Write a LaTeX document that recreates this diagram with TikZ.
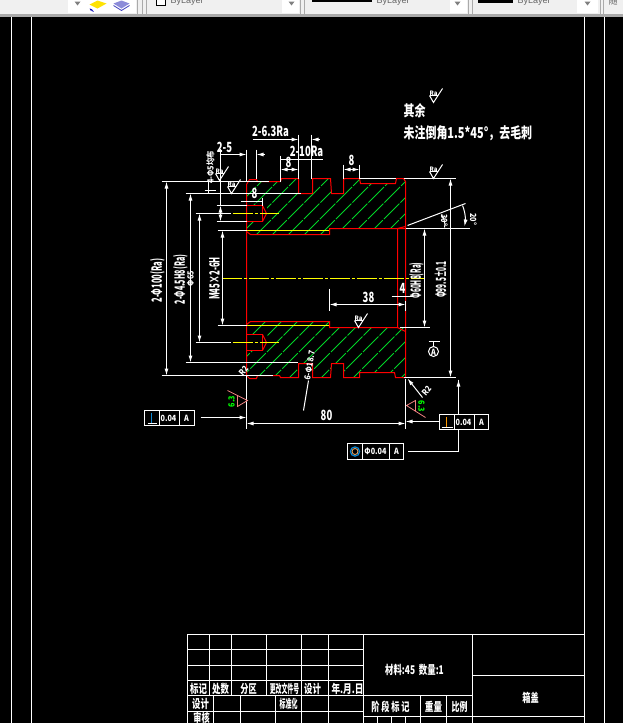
\documentclass[tikz,border=0pt]{standalone}
\usepackage{fontspec}
\usepackage{tikz}
\usetikzlibrary{arrows.meta}
\newfontfamily\cjk{Noto Sans CJK SC}
\newfontfamily\barfont{Liberation Sans}
\definecolor{partred}{RGB}{255,0,0}
\definecolor{hatchgreen}{RGB}{0,215,40}
\definecolor{centeryellow}{RGB}{255,255,0}
\definecolor{barfill}{RGB}{240,240,240}
\definecolor{bargray}{RGB}{170,170,170}
\definecolor{signpink}{RGB}{240,130,130}
\tikzset{
    outline/.style={
        draw=partred,
        line width=1pt
    },
    thinline/.style={
        draw=white,
        line width=1pt
    },
    dimline/.style={
        thinline,
        {Latex[length=7pt,width=4pt]}-{Latex[length=7pt,width=4pt]}
    },
    dimend/.style={
        thinline,
        -{Latex[length=7pt,width=4pt]}
    },
    centerline/.style={
        draw=centeryellow,
        line width=1pt,
        dash pattern=on 20pt off 2pt on 3pt off 2pt
    },
    threadline/.style={
        draw=centeryellow,
        line width=1pt
    },
    hatchline/.style={
        draw=hatchgreen,
        line width=0.9pt,
        dash pattern=on 22pt off 1.5pt
    },
    labelbase/.style={
        text=white,
        inner sep=0pt,
        transform shape
    },
    partlabel/.style={
        labelbase,
        font=\cjk\bfseries\fontsize{14}{14}\selectfont,
        xscale=0.68
    },
    gridlabel/.style={
        labelbase,
        font=\cjk\bfseries\fontsize{12}{12}\selectfont
    },
    notelabel/.style={
        labelbase,
        anchor=west,
        font=\cjk\bfseries\fontsize{15}{15}\selectfont,
        xscale=0.73
    },
    tinylabel/.style={
        labelbase,
        font=\cjk\bfseries\fontsize{8.5}{8.5}\selectfont,
        xscale=0.85
    },
    greenlabel/.style={
        tinylabel,
        text=green
    },
    barlabel/.style={
        inner sep=0pt,
        anchor=west,
        text=black!60,
        font=\barfont\fontsize{9}{9}\selectfont
    },
    framebox/.style={
        thinline,
        fill=black
    }
}
\newcommand{\roughsign}[2]{
    \draw[thinline] (#1-4,#2-7) -- (#1,#2) -- (#1+9,#2-14);
    \draw[thinline] (#1-4,#2-7) -- (#1+4,#2-7);
    \node[labelbase, font=\cjk\bfseries\fontsize{6}{6}\selectfont] at (#1,#2-9) {Ra};
}

\begin{document}
\begin{tikzpicture}[x=1pt, y=-1pt]
    \useasboundingbox (-0.5,-0.5) rectangle (622.5,722.5);
    \fill[black] (-0.5,-0.5) rectangle (622.5,722.5);

    % toolbar
    \fill[barfill] (-0.5,-0.5) rectangle (622.5,13);
    \fill[bargray] (-0.5,13) rectangle (622.5,16);
    \fill[white] (67,-0.5) rectangle (135,12);
    \fill[white] (281,-0.5) rectangle (298,12);
    \fill[white] (449,-0.5) rectangle (466,12);
    \fill[white] (576,-0.5) rectangle (597,12);
    \foreach \x in {77,291,457,587} {
        \fill[gray] (\x-3,1) -- (\x+3,1) -- (\x,5) -- cycle;
    }
    \foreach \x in {137,142,146,300,304,468,472,600,603} {
        \draw[bargray, line width=1pt] (\x,-0.5) -- (\x,13);
    }
    \fill[yellow!85!orange] (89,4) -- (97,0) -- (106,3) -- (97,8) -- cycle;
    \draw[blue!70!black, -{Stealth[length=3pt]}, line width=0.8pt] (93,11) -- (89,8);
    \fill[gray!50!blue!60] (113,3) -- (121,0) -- (129,3) -- (121,8) -- cycle;
    \draw[gray!50!blue, line width=0.8pt] (113,5) -- (121,10) -- (129,5);
    \fill[black] (311,-0.5) rectangle (371,1);
    \fill[black] (477,-0.5) rectangle (512,2);
    \begin{scope}
        \clip (-0.5,-0.5) rectangle (622.5,13);
        \draw[black, fill=white, line width=0.6pt] (156,-3) rectangle (165,5);
        \node[barlabel] (layera) at (170,1) {ByLayer};
        \node[barlabel] (layerb) at (376,1) {ByLayer};
        \node[barlabel] (layerc) at (517,1) {ByLayer};
        \node[barlabel, font=\cjk\fontsize{9}{9}\selectfont] (layerd) at (608,1) {随};
    \end{scope}

    % drawing frame
    \foreach \x in {11,31,584,604} {
        \draw[thinline] (\x,16) -- (\x,722.5);
    }

    % hatching
    \begin{scope}
        \clip (246,184) -- (249,179) -- (256,179) -- (257,181) -- (280,181) -- (281,178)
            -- (298,178) -- (298,193) -- (312,193) -- (312,178) -- (330,178) -- (331,193)
            -- (343,193) -- (343,178) -- (359,178) -- (360,183) -- (395,183) -- (396,178)
            -- (403,178) -- (405,181) -- (405,228) -- (329,228) -- (329,234) -- (250,234)
            -- (246,231) -- cycle
            (246,324) -- (250,321) -- (329,321) -- (329,327) -- (405,327) -- (405,377)
            -- (395,377) -- (394,372) -- (359,372) -- (359,377) -- (343,377) -- (343,363)
            -- (331,363) -- (330,377) -- (312,377) -- (312,363) -- (298,363) -- (298,377)
            -- (280,377) -- (279,375) -- (257,375) -- (256,378) -- (249,378) -- (246,375) -- cycle;
        \foreach \c in {442,458,...,794} {
            \draw[hatchline] (\c-120,120) -- (\c-400,400);
        }
        \fill[black] (246,205) rectangle (266,221);
        \fill[black] (246,334) rectangle (266,350);
    \end{scope}

    % part outline
    \draw[threadline] (246,230) -- (329,230);
    \draw[threadline] (246,325) -- (329,325);
    \draw[outline] (246,184) -- (249,179) -- (256,179) -- (257,181) -- (280,181) -- (281,178)
        -- (298,178) -- (298,193) -- (312,193) -- (312,178) -- (330,178) -- (331,193)
        -- (343,193) -- (343,178) -- (359,178) -- (360,183) -- (395,183) -- (396,178)
        -- (403,178) -- (405,181) -- (405,377) -- (395,377) -- (394,372) -- (359,372)
        -- (359,377) -- (343,377) -- (343,363) -- (331,363) -- (330,377) -- (312,377)
        -- (312,363) -- (298,363) -- (298,377) -- (280,377) -- (279,375) -- (257,375)
        -- (256,378) -- (249,378) -- (246,375) -- cycle;
    \draw[outline] (246,231) -- (250,234) -- (329,234) -- (329,228) -- (405,228);
    \draw[outline] (246,324) -- (250,321) -- (329,321) -- (329,327) -- (397,327) -- (397,228);
    \draw[outline] (397,228) -- (405,226);
    \draw[outline] (397,327) -- (405,331);

    % blind holes
    \draw[outline] (246,205) -- (262,205) -- (262,221) -- (246,221);
    \draw[outline] (262,205) -- (266,213) -- (262,221);
    \draw[outline] (246,334) -- (262,334) -- (262,350) -- (246,350);
    \draw[outline] (262,334) -- (266,342) -- (262,350);

    % center lines
    \draw[centerline] (232,213) -- (278,213);
    \draw[centerline] (232,342) -- (278,342);
    \draw[centerline] (221,278) -- (424,278);

    % extension lines
    \draw[thinline] (161,181) -- (268,181);
    \draw[thinline] (185,193) -- (300,193);
    \draw[thinline] (216,205) -- (246,205);
    \draw[thinline] (195,213) -- (230,213);
    \draw[thinline] (216,221) -- (246,221);
    \draw[thinline] (217,230) -- (246,230);
    \draw[thinline] (217,325) -- (246,325);
    \draw[thinline] (195,342) -- (230,342);
    \draw[thinline] (185,362) -- (297,362);
    \draw[thinline] (161,375) -- (272,375);
    \draw[thinline] (246,149) -- (246,181);
    \draw[thinline] (256,149) -- (256,178);
    \draw[thinline] (298,134) -- (298,178);
    \draw[thinline] (311,134) -- (311,178);
    \draw[thinline] (280,155) -- (280,181);
    \draw[thinline] (343,164) -- (343,178);
    \draw[thinline] (359,164) -- (359,178);
    \draw[thinline] (359,178) -- (395,178);
    \draw[thinline] (403,178) -- (455,178);
    \draw[thinline] (405,228) -- (469,228);
    \draw[thinline] (399,327) -- (429,327);
    \draw[thinline] (403,377) -- (455,377);
    \draw[thinline] (329,288) -- (329,310);
    \draw[thinline] (405,300) -- (405,310);
    \draw[thinline] (246,375) -- (246,428);
    \draw[thinline] (405,378) -- (405,428);

    % dimensions
    \draw[dimline] (166,181) -- (166,375);
    \draw[dimline] (190,193) -- (190,362);
    \draw[dimline] (199,213) -- (199,342);
    \draw[dimline] (222,230) -- (222,325);
    \draw[dimline] (220,205) -- (220,221);
    \draw[thinline] (220,148) -- (220,205);
    \draw[dimline] (424,228) -- (424,327);
    \draw[dimline] (450,178) -- (450,377);
    \draw[dimline] (329,304) -- (405,304);
    \draw[dimline] (246,423) -- (405,423);
    \draw[dimline] (280,169) -- (298,169);
    \draw[dimline] (343,169) -- (359,169);
    \draw[thinline] (240,201) -- (262,201);
    \draw[thinline] (262,197) -- (262,205);
    \draw[dimend] (219,154) -- (246,154);
    \draw[dimend] (264,154) -- (256,154);
    \draw[dimend] (252,139) -- (298,139);
    \draw[dimend] (319,139) -- (311,139);
    \draw[thinline] (280,159) -- (322,159);
    \draw[thinline] (391,296) -- (412,296);
    \draw[thinline] (208,181) -- (208,192);
    \draw[thinline] (204,190) -- (215,190);

    % angle marks
    \draw[thinline] (407,225) -- (465,203);
    \draw[thinline] (441,214) .. controls (444,219) and (445,223) .. (444,227);
    \draw[dimend] (462,205) .. controls (465,212) and (465,220) .. (464,226);

    % leaders
    \draw[dimend] (422,397) -- (407,378);
    \draw[thinline] (308,380) -- (303,410);
    \draw[dimend] (200,417) -- (246,417);
    \draw[dimend] (439,421) -- (405,421);
    \draw[thinline] (458,379) -- (458,451) -- (407,451);
    \draw[dimend] (458,395) -- (458,379);

    % pink surface signs
    \draw[signpink, line width=0.8pt] (227,390) -- (247,400) -- (237,406) -- (237,395);
    \draw[signpink, line width=0.8pt] (425,417) -- (406,405) -- (415,400) -- (415,410);

    % datum sign
    \draw[thinline] (428,341) -- (439,341);
    \draw[thinline] (433,341) -- (433,346);
    \draw[thinline] (433,351) circle (5);

    % tolerance frames
    \draw[framebox] (144,410) rectangle (194,425);
    \draw[thinline] (158.5,410) -- (158.5,425);
    \draw[thinline] (178.5,410) -- (178.5,425);
    \draw[thinline] (147,423) -- (156,423);
    \draw[cyan!70!blue, line width=1pt] (151,412) -- (151,422);
    \draw[framebox] (439,414) rectangle (488,429);
    \draw[thinline] (453.5,414) -- (453.5,429);
    \draw[thinline] (473.5,414) -- (473.5,429);
    \draw[thinline] (441,427) -- (452,427);
    \draw[orange!80!yellow, line width=1pt] (446,416) -- (446,426);
    \draw[framebox] (347,443) rectangle (403,459);
    \draw[thinline] (362,443) -- (362,459);
    \draw[thinline] (388.5,443) -- (388.5,459);
    \draw[cyan!70!blue, line width=1.2pt] (354.5,451) circle (4.6);
    \draw[orange!60!white, line width=0.8pt] (354.5,451) circle (3);

    % roughness signs
    \roughsign{433}{102}
    \roughsign{433}{178}
    \roughsign{219}{180}
    \roughsign{231}{193}
    \roughsign{358}{327}

    % dimension texts
    \node[partlabel] (dimtwofive) at (224,147) {2-5};
    \node[partlabel] (dimsixthree) at (270,131) {2-6.3Ra};
    \node[partlabel] (dimtenra) at (306,151) {2-10Ra};
    \node[partlabel] (dimeighta) at (288,162) {8};
    \node[partlabel] (dimeightb) at (254,193) {8};
    \node[partlabel] (dimeightc) at (351,160) {8};
    \node[partlabel] (dimthirtyeight) at (368,297) {38};
    \node[partlabel] (dimfour) at (402,288) {4};
    \node[partlabel] (dimeighty) at (326,415) {80};
    \node[rotate=90, partlabel, xscale=0.8] (diahundred) at (157,280) {2-Φ100(Ra)};
    \node[rotate=90, partlabel, xscale=0.75] (diaforty) at (180,279) {2-Φ4.5H8(Ra)};
    \node[rotate=90, tinylabel] (diasixtyfive) at (190,278) {Φ65};
    \node[rotate=90, partlabel, xscale=0.82] (threadlabel) at (214,278) {M45×2-6H};
    \node[rotate=90, partlabel, xscale=0.68] (boreeighty) at (416,280) {Φ60H8(Ra)};
    \node[rotate=90, partlabel, xscale=0.68] (dianinety) at (440,279) {Φ99.5±0.1};
    \node[rotate=90, tinylabel] (holelabel) at (210,167) {4-Φ5均布};
    \node[rotate=80, tinylabel] (cornerlabel) at (309,365) {6-Φ18.7};
    \node[rotate=50, tinylabel] (radiusright) at (426,390) {R2};
    \node[rotate=50, tinylabel] (radiusleft) at (243,370) {R2};
    \node[rotate=-90, tinylabel] (anglethirty) at (444,220) {30°};
    \node[rotate=-90, tinylabel] (angletwenty) at (473,219) {20°};
    \node[tinylabel] (datuma) at (433,352) {A};
    \node[rotate=90, greenlabel] (signleft) at (231,401) {6.3};
    \node[rotate=-90, greenlabel] (signright) at (421,406) {6.3};

    % notes
    \node[notelabel] (notehead) at (403,110) {其余};
    \node[notelabel] (notetext) at (403,133) {未注倒角1.5*45°，去毛刺};

    % frame texts
    \node[tinylabel] (toldatuma) at (186,418) {A};
    \node[tinylabel] (tolvaluea) at (168,418) {0.04};
    \node[tinylabel] (toldatumb) at (481,422) {A};
    \node[tinylabel] (tolvalueb) at (463,422) {0.04};
    \node[tinylabel] (toldatumc) at (396,451) {A};
    \node[tinylabel] (tolvaluec) at (375,451) {Φ0.04};

    % title block
    \draw[thinline] (187,722.5) -- (187,634) -- (583,634);
    \foreach \y in {649,665,680,695,711} {
        \draw[thinline] (187,\y) -- (363,\y);
    }
    \foreach \x in {209,231,266} {
        \draw[thinline] (\x,634) -- (\x,695);
    }
    \foreach \x in {301,328,363} {
        \draw[thinline] (\x,634) -- (\x,722.5);
    }
    \foreach \x in {213,240,275} {
        \draw[thinline] (\x,695) -- (\x,722.5);
    }
    \draw[thinline] (472,634) -- (472,722.5);
    \draw[thinline] (363,695) -- (472,695);
    \draw[thinline] (472,675) -- (583,675);
    \draw[thinline] (363,716) -- (583,716);
    \foreach \x in {420,446} {
        \draw[thinline] (\x,695) -- (\x,722.5);
    }
    \foreach \x in {377,391,405} {
        \draw[thinline] (\x,716) -- (\x,722.5);
    }

    \node[gridlabel, xscale=0.7] (marka) at (198,688) {标记};
    \node[gridlabel, xscale=0.7] (countb) at (220,688) {处数};
    \node[gridlabel, xscale=0.68] (zonec) at (248,688) {分区};
    \node[gridlabel, xscale=0.49] (filed) at (284,688) {更改文件号};
    \node[gridlabel, xscale=0.7] (designe) at (312,688) {设计};
    \node[gridlabel, xscale=0.72] (datef) at (347,688) {年.月.日};
    \node[gridlabel, xscale=0.7] (designg) at (200,703) {设计};
    \node[gridlabel, xscale=0.5] (standardh) at (288,703) {标准化};
    \node[gridlabel, xscale=0.68] (checki) at (201,717) {审核};
    \node[gridlabel, xscale=0.7] (materialj) at (414,669) {材料:45~~数量:1};
    \node[gridlabel, xscale=0.68] (stagek) at (390,706) {阶~段~标~记};
    \node[gridlabel, xscale=0.72] (weightl) at (433,706) {重量};
    \node[gridlabel, xscale=0.66] (ratiom) at (459,706) {比例};
    \node[gridlabel, xscale=0.68] (namen) at (530,697) {箱盖};

\end{tikzpicture}
\end{document}
